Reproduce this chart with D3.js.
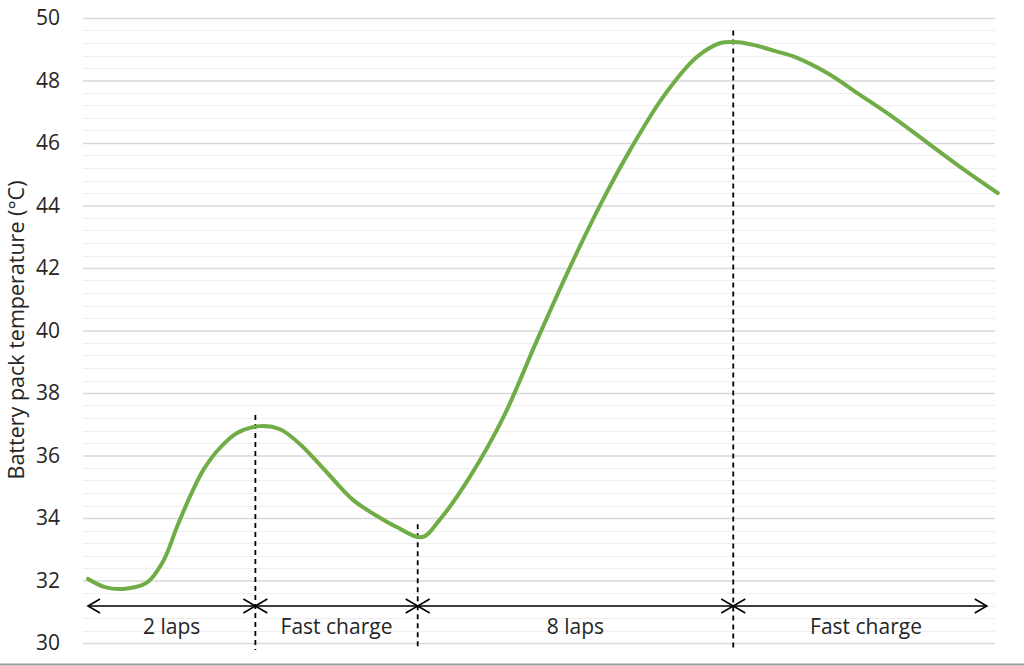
<!DOCTYPE html>
<html>
<head>
<meta charset="utf-8">
<script src="https://cdn.jsdelivr.net/npm/d3@7"></script>
<style>
  html, body { margin: 0; padding: 0; background: #fff; }
  svg { display: block; font-family: "Open Sans", "Noto Sans", sans-serif; }
</style>
</head>
<body>
<svg id="chart" width="1024" height="666"></svg>
<script>
// Battery pack temperature over a session: laps / fast-charge phases.
// x is an arbitrary time unit (0..100 across the plot), y in °C.

const timeValues = [0.55, 2.4, 4.4, 7.0, 8.8, 10.3, 11.7, 13.2, 15.0, 16.9, 19.4,
  21.6, 23.8, 26.8, 29.6, 32.6, 34.4, 37.2, 39.1, 42.4, 46.1, 49.8, 53.4,
  57.0, 60.0, 63.6, 67.3, 69.9, 71.4, 73.5, 76.4, 77.9, 81.6, 85.2, 88.8, 92.5,
  96.2, 100.3];
const tempValues = [32.05, 31.79, 31.73, 31.93, 32.62, 33.71, 34.67, 35.54, 36.24,
  36.72, 36.94, 36.84, 36.36, 35.44, 34.58, 34.00, 33.71, 33.39, 33.94,
  35.31, 37.23, 39.70, 42.03, 44.18, 45.78, 47.47, 48.75, 49.20, 49.23, 49.14,
  48.90, 48.77, 48.24, 47.54, 46.83, 46.03, 45.23, 44.40];

const yTicks = [30, 32, 34, 36, 38, 40, 42, 44, 46, 48, 50];
const yMinorStep = 0.4;

// phase boundaries (time) and labels
const phaseStarts = [0.55, 18.9, 36.7, 71.3];
const phaseEnds   = [18.9, 36.7, 71.3, 99.1];
const phaseLabels = ["2 laps", "Fast charge", "8 laps", "Fast charge"];
// dashed markers: time and top temperature of each marker
const markerTimes = [18.9, 36.7, 71.3];
const markerTops  = [37.3, 33.8, 49.6];

const svg = d3.select("#chart");
const W = 1024, H = 666;
const plot = { left: 83, right: 995, top: 18, bottom: 643 };

const x = d3.scaleLinear().domain([0, 100]).range([plot.left, plot.right]);
const y = d3.scaleLinear().domain([30, 50]).range([plot.bottom, plot.top]);

// minor gridlines
const minor = d3.range(30, 50.001, yMinorStep).filter(v => Math.abs(v / 2 - Math.round(v / 2)) > 1e-6);
svg.append("g")
  .selectAll("line").data(minor).join("line")
  .attr("x1", plot.left).attr("x2", plot.right)
  .attr("y1", d => Math.round(y(d)) + 0.5).attr("y2", d => Math.round(y(d)) + 0.5)
  .attr("stroke", "#efefef").attr("stroke-width", 1);

// y axis: major gridlines + labels
const yAxis = d3.axisLeft(y).tickValues(yTicks)
  .tickSize(-(plot.right - plot.left)).tickPadding(23);
const gy = svg.append("g")
  .attr("transform", `translate(${plot.left},0)`)
  .call(yAxis);
gy.select(".domain").remove();
gy.selectAll(".tick line").attr("stroke", "#d9d9d9").attr("stroke-width", 1.3);
gy.selectAll(".tick text")
  .attr("fill", "#262626").attr("font-size", 21)
  .attr("font-family", "\"Open Sans\", sans-serif");

svg.append("text")
  .attr("transform", `translate(24,330) rotate(-90)`)
  .attr("text-anchor", "middle")
  .attr("fill", "#262626")
  .attr("font-size", 21.5)
  .text("Battery pack temperature (°C)");

// dashed phase markers
svg.append("g")
  .selectAll("line").data(markerTimes).join("line")
  .attr("x1", d => x(d)).attr("x2", d => x(d))
  .attr("y1", (d, i) => y(markerTops[i]))
  .attr("y2", 650)
  .attr("stroke", "#000").attr("stroke-width", 1.8)
  .attr("stroke-dasharray", "5,4");

// temperature curve
const line = d3.line()
  .x((d, i) => x(timeValues[i]))
  .y(d => y(d))
  .curve(d3.curveCatmullRom.alpha(0.5));
svg.append("path")
  .datum(tempValues)
  .attr("d", line)
  .attr("fill", "none")
  .attr("stroke", "#70ad47")
  .attr("stroke-width", 4)
  .attr("stroke-linecap", "round")
  .attr("stroke-linejoin", "round");

// double-headed arrows for each phase
const arrowY = 606;
const ag = svg.append("g").attr("stroke", "#000").attr("fill", "none")
  .attr("stroke-width", 1.6);
phaseStarts.forEach((s, i) => {
  const x0 = x(s), x1 = x(phaseEnds[i]);
  ag.append("line").attr("x1", x0).attr("x2", x1).attr("y1", arrowY).attr("y2", arrowY);
  ag.append("path").attr("d", `M ${x0 + 12} ${arrowY - 7} L ${x0} ${arrowY} L ${x0 + 12} ${arrowY + 7}`);
  ag.append("path").attr("d", `M ${x1 - 12} ${arrowY - 7} L ${x1} ${arrowY} L ${x1 - 12} ${arrowY + 7}`);
  svg.append("text")
    .attr("x", (x0 + x1) / 2 + (i === 3 ? 6 : 0))
    .attr("y", 634)
    .attr("text-anchor", "middle")
    .attr("fill", "#262626")
    .attr("font-size", 21)
    .text(phaseLabels[i]);
});

// bottom frame line
svg.append("line")
  .attr("x1", 0).attr("x2", W).attr("y1", 664.5).attr("y2", 664.5)
  .attr("stroke", "#9a9a9a").attr("stroke-width", 2);
</script>
</body>
</html>
